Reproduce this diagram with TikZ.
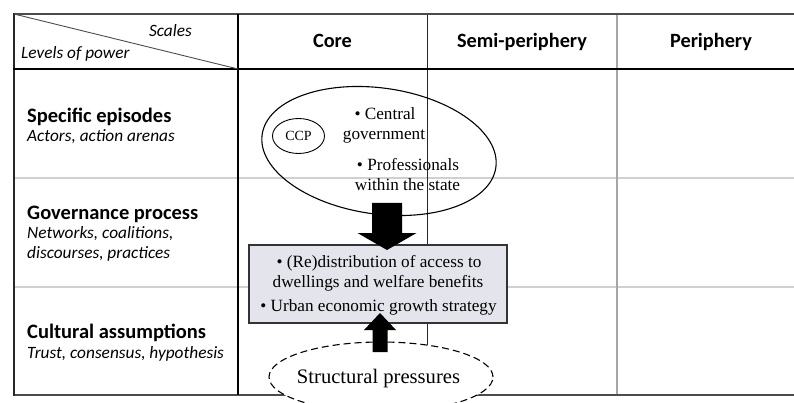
\documentclass[tikz,border=0pt]{standalone}
\usepackage{fontspec}
\setmainfont{Liberation Serif}
\newfontfamily\calib{Carlito}
\usetikzlibrary{shapes.geometric,calc}
\definecolor{boxfill}{HTML}{E4E4EC}
\definecolor{gridgray}{HTML}{D0D0D0}
\begin{document}
\begin{tikzpicture}[x=1pt,y=-1pt,
  hdr/.style={font=\calib\bfseries\fontsize{20.3}{24}\selectfont, anchor=base, inner sep=0},
  lvl/.style={font=\calib\bfseries\fontsize{20.5}{24}\selectfont, anchor=base west, inner sep=0},
  sub/.style={font=\calib\itshape\fontsize{17.3}{21}\selectfont, anchor=base west, inner sep=0},
  ser/.style={font=\fontsize{17.2}{20}\selectfont, anchor=base, inner sep=0},
  thin grid/.style={line width=1.5pt, gridgray},
  bigarrow/.style={fill=black}
]
\useasboundingbox (0,0) rectangle (794,403);
% table lines
\draw[thin grid] (14,178) -- (794,178);
\draw[thin grid] (14,287) -- (794,287);
\draw[line width=1.5pt, black!35] (617,14) -- (617,395);
\draw[line width=0.9pt, black!85] (427,14) -- (427,395);
\draw[line width=2pt, black!70] (14,14) -- (794,14);
\draw[line width=2pt, black!70] (14,395) -- (794,395);
\draw[line width=2pt, black!85] (14,13) -- (14,396);
\draw[line width=2pt] (238,14) -- (238,395);
\draw[line width=2.5pt] (13,69) -- (794,69);
\draw[line width=0.9pt, black!70] (14,14) -- (238,69);
% header texts
\node[sub, anchor=base east] (scales) at (192,37) {Scales};
\node[sub] (levels) at (21,59) {Levels of power};
\node[hdr] (core) at (332.5,48) {Core};
\node[hdr] (semi) at (522,48) {Semi-periphery};
\node[hdr] (peri) at (711,48) {Periphery};
% row labels
\node[lvl] (spec) at (27,122.5) {Specific episodes};
\node[sub] (spec2) at (27,141.5) {Actors, action arenas};
\node[lvl] (gov) at (27,219) {Governance process};
\node[sub] (gov2) at (27,238) {Networks, coalitions,};
\node[sub] (gov3) at (27,258) {discourses, practices};
\node[lvl] (cult) at (27,338) {Cultural assumptions};
\node[sub] (cult2) at (27,358) {Trust, consensus, hypothesis};
% central box
\node[draw=black!80, line width=1.5pt, fill=boxfill, minimum width=258pt, minimum height=78pt, inner sep=0] (box) at (378,284) {};
\node[ser] (b1) at (379,267) {• (Re)distribution of access to};
\node[ser] (b2) at (378,287.5) {dwellings and welfare benefits};
\node[ser] (b3) at (378.5,311.5) {• Urban economic growth strategy};
% actors ellipse
\node[ellipse, draw, line width=1.1pt, minimum width=236pt, minimum height=126pt, inner sep=0, rotate=-8] (actors) at (379,151) {};
\node[ellipse, draw, line width=0.9pt, minimum width=52pt, minimum height=35pt, inner sep=0] (ccpe) at (298.5,136) {};
\node[ser, font=\fontsize{14}{16}\selectfont] (ccp) at (298.5,141) {CCP};
\node[ser] (cg1) at (385,120) {• Central};
\node[ser] (cg2) at (384,140) {government};
\node[ser] (pr1) at (408,170.5) {• Professionals};
\node[ser] (pr2) at (407.5,191) {within the state};
% structural pressures
\node[ellipse, draw, dash pattern=on 7pt off 4pt, line width=1.1pt, fill=white, minimum width=224pt, minimum height=70pt, inner sep=0] (press) at (381,377) {};
\node[ser, font=\fontsize{20.6}{24}\selectfont] (presst) at (378.5,383) {Structural pressures};
% arrows
\coordinate (d0) at (387,203);
\coordinate (d1) at (387,250);
\fill[bigarrow] ($(d0)+(-15,0)$) -- ($(d0)+(15,0)$) -- ($(d1)+(15,-17)$) -- ($(d1)+(29.5,-17)$) -- (d1) -- ($(d1)+(-29.5,-17)$) -- ($(d1)+(-15,-17)$) -- cycle;
\coordinate (u0) at (380,352);
\coordinate (u1) at (380,313);
\fill[bigarrow] ($(u0)+(-7.5,0)$) -- ($(u0)+(7.5,0)$) -- ($(u1)+(7.5,17)$) -- ($(u1)+(16,17)$) -- (u1) -- ($(u1)+(-16,17)$) -- ($(u1)+(-7.5,17)$) -- cycle;
\end{tikzpicture}
\end{document}
